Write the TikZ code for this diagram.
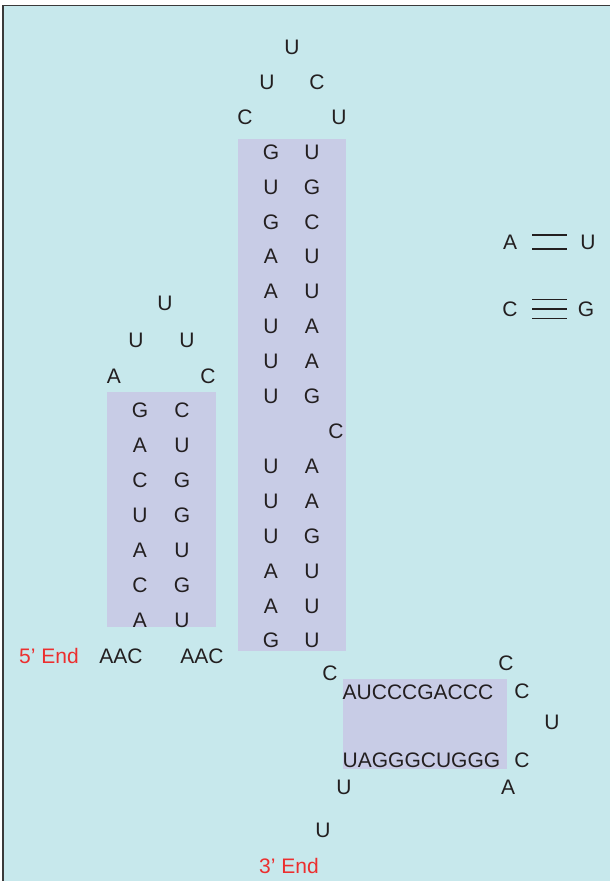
\documentclass[tikz,border=0pt]{standalone}
\usepackage{fontspec}
\setmainfont{Liberation Sans}
\definecolor{panel}{HTML}{C7E8EC}
\definecolor{stemfill}{HTML}{C8CCE6}
\definecolor{ink}{HTML}{231F20}
\definecolor{endred}{HTML}{EC2F2F}
\definecolor{frame}{HTML}{3A3A3A}
\begin{document}
\begin{tikzpicture}[x=1pt,y=-1pt,
  nt/.style={inner sep=0pt, text=ink, font=\fontsize{21}{25}\selectfont},
  endlabel/.style={nt, text=endred},
  stembox/.style={fill=stemfill, draw=none},
  bond/.style={draw=ink, line width=1.2pt}]
\useasboundingbox (0,0) rectangle (610,881);

% panel and its top/left frame
\fill[panel] (3,5.5) rectangle (610,881);
\draw[frame, line width=1.6pt] (3,881) -- (3,5.5) -- (610,5.5);

% shaded helix regions
\fill[stembox] (238,139) rectangle (346,651);
\fill[stembox] (107,392) rectangle (216,627);
\fill[stembox] (343,679) rectangle (507,769);

% hairpin loop on top of the long helix
\node[nt] (h1) at (292,47) {U};
\node[nt] (h2) at (267,82) {U};
\node[nt] (h3) at (317,82) {C};
\node[nt] (h4) at (245,117) {C};
\node[nt] (h5) at (339,117) {U};

% long helix, upper part
\foreach \l/\r/\y [count=\i] in {G/U/152, U/G/186.9, G/C/221.8, A/U/256.7, A/U/291.6, U/A/326.5, U/A/361.4, U/G/396.3}{
  \node[nt] (ul\i) at (271,\y) {\l};
  \node[nt] (ur\i) at (312,\y) {\r};
}
% bulge
\node[nt] (bulge) at (336,431) {C};
% long helix, lower part
\foreach \l/\r/\y [count=\i] in {U/A/466, U/A/501, U/G/536, A/U/571, A/U/606, G/U/640}{
  \node[nt] (dl\i) at (271,\y) {\l};
  \node[nt] (dr\i) at (312,\y) {\r};
}

% hairpin loop of the short helix
\node[nt] (s1) at (165,303) {U};
\node[nt] (s2) at (136,340) {U};
\node[nt] (s3) at (187,340) {U};
\node[nt] (s4) at (114,376) {A};
\node[nt] (s5) at (208,376) {C};

% short helix
\foreach \l/\r/\y [count=\i] in {G/C/410, A/U/445, C/G/480, U/G/515.5, A/U/550, C/G/585, A/U/620}{
  \node[nt] (kl\i) at (140,\y) {\l};
  \node[nt] (kr\i) at (182,\y) {\r};
}

% 5' end
\node[endlabel] (five) at (49,656) {5’ End};
\node[nt] (aac1) at (121,656) {AAC};
\node[nt] (aac2) at (202,656) {AAC};

% acceptor-side helix and its loop
\node[nt] (c0) at (330,673) {C};
\node[nt, anchor=west] (top) at (342.5,692) {AUCCCGACCC};
\node[nt, anchor=west] (bot) at (342.5,760) {UAGGGCUGGG};
\node[nt] (r1) at (506,663) {C};
\node[nt] (r2) at (522,691) {C};
\node[nt] (r3) at (552,722) {U};
\node[nt] (r4) at (522,760) {C};
\node[nt] (r5) at (508,787) {A};
\node[nt] (t1) at (344,787) {U};
\node[nt] (t2) at (323,830) {U};
\node[endlabel] (three) at (289,866) {3’ End};

% base-pairing key
\node[nt] (keyA) at (510,242) {A};
\node[nt] (keyU) at (588,242) {U};
\node[nt] (keyC) at (510,309) {C};
\node[nt] (keyG) at (586,309) {G};
\coordinate (au1a) at (532,235); \coordinate (au1b) at (567,235);
\coordinate (au2a) at (532,249); \coordinate (au2b) at (567,249);
\coordinate (cg1a) at (532,299.5); \coordinate (cg1b) at (567,299.5);
\coordinate (cg2a) at (532,309); \coordinate (cg2b) at (567,309);
\coordinate (cg3a) at (532,318.5); \coordinate (cg3b) at (567,318.5);
\draw[bond] (au1a) -- (au1b);
\draw[bond] (au2a) -- (au2b);
\draw[bond] (cg1a) -- (cg1b);
\draw[bond] (cg2a) -- (cg2b);
\draw[bond] (cg3a) -- (cg3b);
\end{tikzpicture}
\end{document}
